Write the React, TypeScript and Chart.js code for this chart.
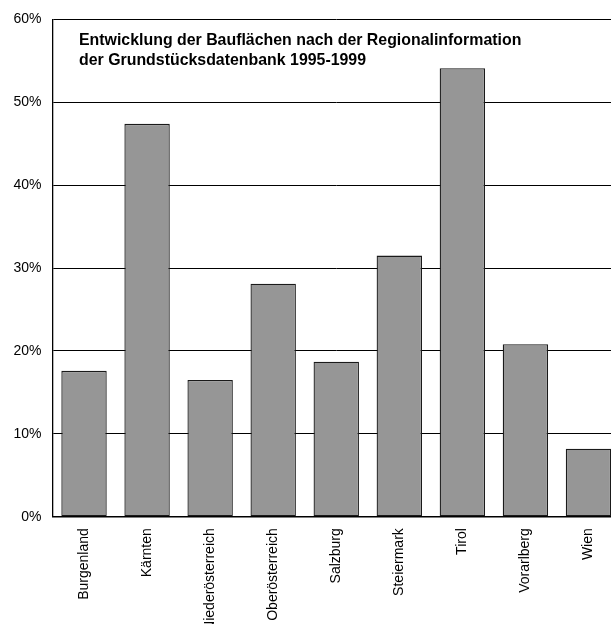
import React, { useEffect, useRef } from "react";
import { Chart, registerables } from "chart.js";

Chart.register(...registerables);

const categories = [
  "Burgenland",
  "Kärnten",
  "Niederösterreich",
  "Oberösterreich",
  "Salzburg",
  "Steiermark",
  "Tirol",
  "Vorarlberg",
  "Wien",
];
const values = [17.6, 47.4, 16.5, 28.1, 18.7, 31.5, 54.1, 20.8, 8.2];
const yMin = 0;
const yMax = 60;
const yStep = 10;
const titleLines = [
  "Entwicklung der Bauflächen nach der Regionalinformation",
  "der Grundstücksdatenbank 1995-1999",
];

const FONT = "'Liberation Sans', Arial, sans-serif";

const innerTitlePlugin = {
  id: "innerTitle",
  afterDraw(chart: any) {
    const { ctx, chartArea } = chart;
    ctx.save();
    ctx.fillStyle = "#000";
    ctx.font = `bold 15.9px ${FONT}`;
    ctx.textAlign = "left";
    ctx.textBaseline = "alphabetic";
    titleLines.forEach((line, i) => {
      ctx.fillText(line, chartArea.left + 26.5, chartArea.top + 25.3 + i * 20);
    });
    ctx.restore();
  },
};

export default function App() {
  const ref = useRef<HTMLCanvasElement | null>(null);

  useEffect(() => {
    if (!ref.current) return;
    const chart = new Chart(ref.current, {
      type: "bar",
      data: {
        labels: categories,
        datasets: [
          {
            data: values,
            backgroundColor: "#969696",
            borderColor: "#1a1a1a",
            borderWidth: 1.3,
            borderSkipped: false,
            barPercentage: 0.72,
            categoryPercentage: 1,
          },
        ],
      },
      options: {
        responsive: false,
        animation: false,
        devicePixelRatio: 1,
        layout: { padding: { top: 16.5, left: 0, right: 0, bottom: 0 } },
        plugins: {
          legend: { display: false },
          tooltip: { enabled: false },
          title: { display: false },
        },
        scales: {
          x: {
            grid: { display: false, drawTicks: false },
            border: { display: true, color: "#000", width: 1.5 },
            ticks: {
              autoSkip: false,
              maxRotation: 90,
              minRotation: 90,
              padding: 11.5,
              color: "#000",
              font: { family: FONT, size: 14 },
            },
            afterFit: (scale: any) => {
              scale.height = 107.3;
            },
          },
          y: {
            min: yMin,
            max: yMax,
            grid: { color: "#000", lineWidth: 1, drawTicks: false },
            border: { display: true, color: "#000", width: 1.3 },
            ticks: {
              stepSize: yStep,
              padding: 11,
              color: "#000",
              font: { family: FONT, size: 14 },
              callback: (v: any) => `${v}%`,
            },
            afterFit: (scale: any) => {
              scale.width = 52.5;
            },
          },
        },
      },
      plugins: [innerTitlePlugin],
    });
    return () => chart.destroy();
  }, []);

  return (
    <div
      style={{
        position: "fixed",
        left: 0,
        top: 0,
        width: 611,
        height: 624,
        overflow: "hidden",
        background: "#fff",
      }}
    >
      <canvas ref={ref} width={620} height={624} style={{ display: "block" }} />
    </div>
  );
}
